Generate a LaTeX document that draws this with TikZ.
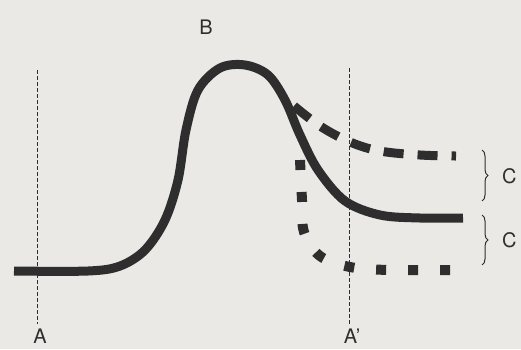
\documentclass[tikz,border=0pt]{standalone}
\usepackage{fontspec}
\setmainfont{TeX Gyre Heros}
\usetikzlibrary{decorations.pathreplacing}
\definecolor{bg}{HTML}{EBE9E5}
\definecolor{ink}{HTML}{2E2E2E}
\tikzset{
  guide/.style={draw=ink, line width=0.8pt, dash pattern=on 4pt off 2pt},
  mainline/.style={draw=ink, line width=9pt, line cap=butt, line join=round},
  dashline/.style={draw=ink, line width=9pt, line cap=butt, dash pattern=on 20pt off 14pt},
  dotline/.style={draw=ink, line width=10pt, line cap=butt, dash pattern=on 10pt off 22pt},
  lbl/.style={font=\fontsize{20}{22}\selectfont, text=ink, inner sep=0pt},
  bracestyle/.style={draw=ink, line width=1pt, decorate, decoration={brace, amplitude=6pt}}
}
\begin{document}
\begin{tikzpicture}[x=1pt,y=-1pt]
\fill[bg] (0,0) rectangle (521,349);
\useasboundingbox (0,0) rectangle (521,349);
% guide lines
\coordinate (a1) at (37,70);
\coordinate (a2) at (37,324);
\coordinate (b1) at (349,68);
\coordinate (b2) at (349,324);
\draw[guide] (a1) -- (a2);
\draw[guide] (b1) -- (b2);
% labels
\node[lbl] (A) at (40,336) {A};
\node[lbl] (Ap) at (352,336) {A'};
\node[lbl] (B) at (206,27) {B};
\node[lbl, anchor=west] (C1) at (502,176) {C};
\node[lbl, anchor=west] (C2) at (502,240) {C};
% braces
\coordinate (br1t) at (482,150);
\coordinate (br1b) at (482,201);
\coordinate (br2t) at (482,215);
\coordinate (br2b) at (482,265);
\draw[bracestyle] (br1t) -- (br1b);
\draw[bracestyle] (br2t) -- (br2b);
% main curve
\draw[mainline] plot[smooth, tension=0.55] coordinates {
  (14,271) (88,271) (120,266) (145,250) (165,220) (178,180) (186,130)
  (198,90) (220,68) (245,65) (268,75) (285,100) (300,135) (318,170)
  (345,201) (380,215) (420,218) (463,218)};
% dashed branch
\draw[dashline] plot[smooth, tension=0.6] coordinates {
  (294,106) (320,126) (350,142) (380,151) (420,155) (456,156)};
% dotted branch
\draw[dotline] plot[smooth, tension=0.6] coordinates {
  (300,160) (302,200) (304,232) (320,256) (350,267) (390,270) (452,270)};
\end{tikzpicture}
\end{document}
